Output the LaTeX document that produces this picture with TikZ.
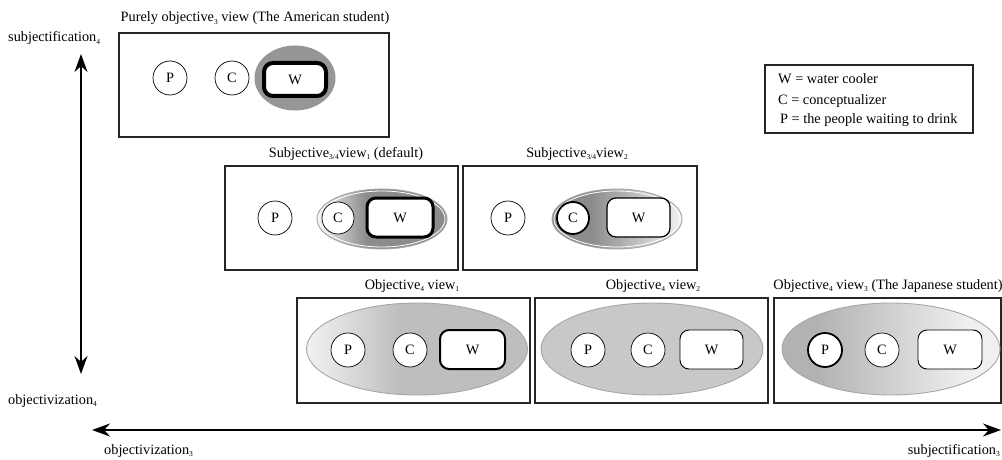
\documentclass[tikz,border=0pt]{standalone}
\usepackage{fontspec}
\setmainfont{Liberation Serif}
\usetikzlibrary{arrows.meta,shapes.geometric}
\definecolor{dk}{HTML}{8C8C8C}
\definecolor{lt}{HTML}{F2F2F2}
\definecolor{md}{HTML}{BEBEBE}
\definecolor{sg}{HTML}{C8C8C8}
\definecolor{cd}{HTML}{B2B2B2}
\definecolor{cl}{HTML}{F0F0F0}
\definecolor{tg}{HTML}{969696}
\pgfdeclarehorizontalshading{shA}{100bp}{color(0bp)=(lt); color(25bp)=(lt); color(44bp)=(dk); color(75bp)=(dk); color(100bp)=(dk)}
\pgfdeclarehorizontalshading{shB}{100bp}{color(0bp)=(dk); color(25bp)=(dk); color(40bp)=(dk); color(75bp)=(lt); color(100bp)=(lt)}
\pgfdeclarehorizontalshading{shC}{100bp}{color(0bp)=(lt); color(25bp)=(lt); color(46bp)=(md); color(75bp)=(md); color(100bp)=(md)}
\pgfdeclarehorizontalshading{shD}{100bp}{color(0bp)=(cd); color(25bp)=(cd); color(33bp)=(cd); color(68bp)=(cl); color(75bp)=(cl); color(100bp)=(cl)}
\newcommand{\sbs}[1]{\raisebox{-2.5pt}{\fontsize{7.5}{7.5}\selectfont #1}}
\begin{document}
\begin{tikzpicture}[x=1pt,y=-1pt,
  every node/.style={font=\fontsize{14.3}{16}\selectfont, inner sep=0pt},
  frame/.style={draw=black!85, line width=1.3pt},
  pc/.style={draw, circle, minimum size=34pt, line width=0.7pt, fill=white},
  pcthick/.style={pc, line width=1.8pt},
  wbox/.style={draw, rounded corners=9pt, minimum width=64pt, minimum height=39pt, line width=0.9pt, fill=white},
  eout/.style={draw=gray!70, line width=0.9pt},
  bigarrow/.style={line width=2pt, {Stealth[length=18pt,width=13pt]}-{Stealth[length=18pt,width=13pt]}},
  lbl/.style={anchor=base}
]
\useasboundingbox (0,0) rectangle (1002,460);

% axes
\coordinate (vt) at (81,54);
\coordinate (vb) at (81,374);
\draw[bigarrow] (vt) -- (vb);
\node[anchor=base west] (subj4) at (8,42) {subjectification\sbs{4}};
\node[anchor=base west] (obj4) at (8,404) {objectivization\sbs{4}};
\coordinate (hl) at (92,430);
\coordinate (hr) at (1001,430);
\draw[bigarrow] (hl) -- (hr);
\node[anchor=base west] (obj3) at (104,454) {objectivization\sbs{3}};
\node[anchor=base east] (subj3) at (1000,454) {subjectification\sbs{3}};

% legend
\node[frame, line width=1.2pt, minimum width=208pt, minimum height=68pt] (leg) at (869,99) {};
\node[anchor=base west] (l1) at (778,84) {W = water cooler};
\node[anchor=base west] (l2) at (778,104) {C = conceptualizer};
\node[anchor=base west] (l3) at (780,124) {P = the people waiting to drink};

% top box
\node[frame, minimum width=270pt, minimum height=104pt] (b0) at (254,85) {};
\node[lbl] (t0) at (255,22) {Purely objective\sbs{3} view (The American student)};
\node[ellipse, fill=tg, minimum width=81pt, minimum height=65pt] (e0) at (295,78) {};
\node[pc] (p0) at (170,78) {P};
\node[pc] (c0) at (232,78) {C};
\node[wbox, line width=4pt, minimum width=62pt, minimum height=33pt] (w0) at (295,79.5) {W};

% middle row
\node[frame, minimum width=233pt, minimum height=104pt] (b1) at (341.5,218) {};
\node[lbl] (t1) at (346,157) {Subjective\sbs{3/4}view\sbs{1} (default)};
\node[frame, minimum width=234pt, minimum height=104pt] (b2) at (580,218) {};
\node[lbl] (t2) at (577,157) {Subjective\sbs{3/4}view\sbs{2}};

\node[ellipse, eout, shading=shA, minimum width=130pt, minimum height=60pt] (e1) at (382,219) {};
\node[ellipse, draw=white, line width=0.8pt, minimum width=126pt, minimum height=56pt] (e1i) at (382,219) {};
\node[pc] (p1) at (275,218) {P};
\node[pc, minimum size=32pt] (c1) at (338,218) {C};
\node[wbox, line width=3pt, minimum width=66pt, minimum height=39pt] (w1) at (400,217.5) {W};

\node[ellipse, eout, shading=shB, minimum width=130pt, minimum height=60pt] (e2) at (617,219) {};
\node[ellipse, draw=white, line width=0.8pt, minimum width=126pt, minimum height=56pt] (e2i) at (617,219) {};
\node[pc] (p2) at (508,218) {P};
\node[pcthick, minimum size=32pt] (c2) at (573,218) {C};
\node[wbox, line width=1.2pt, minimum width=63pt, minimum height=39pt] (w2) at (638.5,217.5) {W};

% bottom row
\node[frame, minimum width=233pt, minimum height=105pt] (b3) at (413.5,350.5) {};
\node[lbl] (t3) at (412,289) {Objective\sbs{4} view\sbs{1}};
\node[frame, minimum width=233pt, minimum height=105pt] (b4) at (651.5,350.5) {};
\node[lbl] (t4) at (653,289) {Objective\sbs{4} view\sbs{2}};
\node[frame, minimum width=227pt, minimum height=105pt] (b5) at (887.5,350.5) {};
\node[lbl] (t5) at (888,289) {Objective\sbs{4} view\sbs{3} (The Japanese student)};

\node[ellipse, eout, shading=shC, minimum width=221pt, minimum height=92pt] (e3) at (417,349) {};
\node[pc] (p3) at (348,350) {P};
\node[pc] (c3) at (410,350) {C};
\node[wbox, line width=2pt, minimum width=65pt, minimum height=39pt] (w3) at (472.5,349.5) {W};

\node[ellipse, eout, fill=sg, minimum width=222pt, minimum height=92pt] (e4) at (652,349) {};
\node[pc] (p4) at (588,350) {P};
\node[pc] (c4) at (648,350) {C};
\node[wbox, minimum width=63pt, minimum height=39pt] (w4) at (711.5,349.5) {W};

\node[ellipse, eout, shading=shD, minimum width=218pt, minimum height=92pt] (e5) at (891,349) {};
\node[pcthick] (p5) at (825,350) {P};
\node[pc] (c5) at (882,350) {C};
\node[wbox, minimum width=64pt, minimum height=39pt] (w5) at (950,349.5) {W};
\end{tikzpicture}
\end{document}
